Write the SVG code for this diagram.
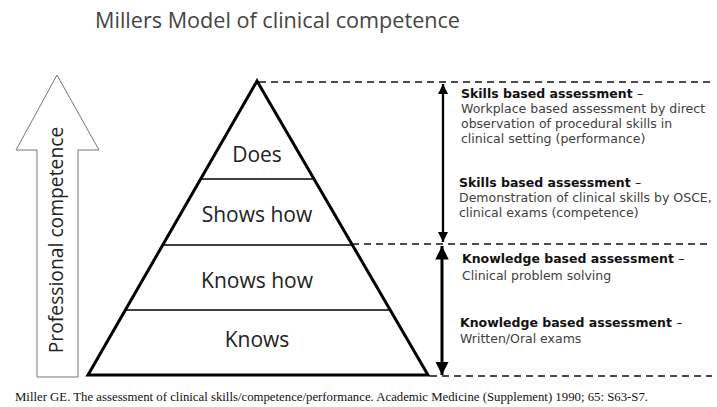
<svg xmlns="http://www.w3.org/2000/svg" width="717" height="407" viewBox="0 0 717 407">
<defs>
<style>
.title{font-family:"Open Sans","Noto Sans",sans-serif;font-size:21.5px;fill:#444;}
.lvl{font-family:"Open Sans","Noto Sans",sans-serif;font-size:21px;fill:#222;text-anchor:middle;}
.b{font-family:"DejaVu Sans",Verdana,sans-serif;font-size:12.5px;font-weight:bold;fill:#111;}
.n{font-family:"DejaVu Sans",Verdana,sans-serif;font-size:12.5px;fill:#404040;}
.dash{stroke:#111;stroke-width:1.5;stroke-dasharray:7,5;fill:none;}
.ref{font-family:"Liberation Serif","Times New Roman",serif;font-size:12.5px;fill:#111;}
</style>
<marker id="ah" viewBox="0 0 10 10" refX="10" refY="5" markerWidth="4.5" markerHeight="4.5" orient="auto-start-reverse">
<path d="M0,0 L10,5 L0,10 z" fill="#000"/>
</marker>
</defs>
<rect width="717" height="407" fill="#fff"/>
<text class="title" x="95" y="28" textLength="365" lengthAdjust="spacingAndGlyphs">Millers Model of clinical competence</text>

<g id="competence-arrow">
<path d="M57,75 L99,150 L78,150 L78,377 L37,377 L37,150 L16,150 Z" fill="#fff" stroke="#777" stroke-width="1"/>
<text transform="translate(63,240) rotate(-90)" text-anchor="middle" style="font-family:'Open Sans','Noto Sans',sans-serif;font-size:19.3px;fill:#222">Professional competence</text>
</g>

<g id="pyramid">
<path d="M257,81 L428,375 L88,375 Z" fill="#fff" stroke="#000" stroke-width="3" stroke-linejoin="miter"/>
<line x1="200" y1="179" x2="314" y2="179" stroke="#000" stroke-width="1.5"/>
<line x1="162" y1="245" x2="352" y2="245" stroke="#000" stroke-width="1.5"/>
<line x1="124" y1="310" x2="390" y2="310" stroke="#000" stroke-width="1.5"/>
</g>
<g id="does"><text class="lvl" x="257" y="162">Does</text></g>
<g id="shows-how"><text class="lvl" x="257" y="222">Shows how</text></g>
<g id="knows-how"><text class="lvl" x="257" y="288">Knows how</text></g>
<g id="knows"><text class="lvl" x="257" y="347">Knows</text></g>

<g id="connectors">
<line class="dash" x1="259" y1="82" x2="712" y2="82"/>
<line class="dash" x1="352" y1="244" x2="712" y2="244"/>
<line class="dash" x1="430" y1="376" x2="712" y2="376"/>
<line x1="443" y1="84" x2="443" y2="242" stroke="#000" stroke-width="2.3" marker-start="url(#ah)" marker-end="url(#ah)"/>
<line x1="442" y1="246" x2="442" y2="375" stroke="#000" stroke-width="3" marker-start="url(#ah)" marker-end="url(#ah)"/>
</g>

<g id="skills-performance">
<text class="b" x="461" y="98">Skills based assessment <tspan style="font-weight:normal">–</tspan></text>
<text class="n" x="461" y="113">Workplace based assessment by direct</text>
<text class="n" x="461" y="128">observation of procedural skills in</text>
<text class="n" x="461" y="143">clinical setting (performance)</text>
</g>
<g id="skills-competence">
<text class="b" x="459" y="187">Skills based assessment <tspan style="font-weight:normal">–</tspan></text>
<text class="n" x="459" y="202">Demonstration of clinical skills by OSCE,</text>
<text class="n" x="459" y="217">clinical exams (competence)</text>
</g>
<g id="knowledge-problem">
<text class="b" x="462" y="263">Knowledge based assessment <tspan style="font-weight:normal">–</tspan></text>
<text class="n" x="462" y="280">Clinical problem solving</text>
</g>
<g id="knowledge-exams">
<text class="b" x="460" y="327">Knowledge based assessment <tspan style="font-weight:normal">–</tspan></text>
<text class="n" x="460" y="343">Written/Oral exams</text>
</g>

<text class="ref" x="15" y="401" textLength="633" lengthAdjust="spacingAndGlyphs">Miller GE. The assessment of clinical skills/competence/performance. Academic Medicine (Supplement) 1990; 65: S63-S7.</text>
</svg>
